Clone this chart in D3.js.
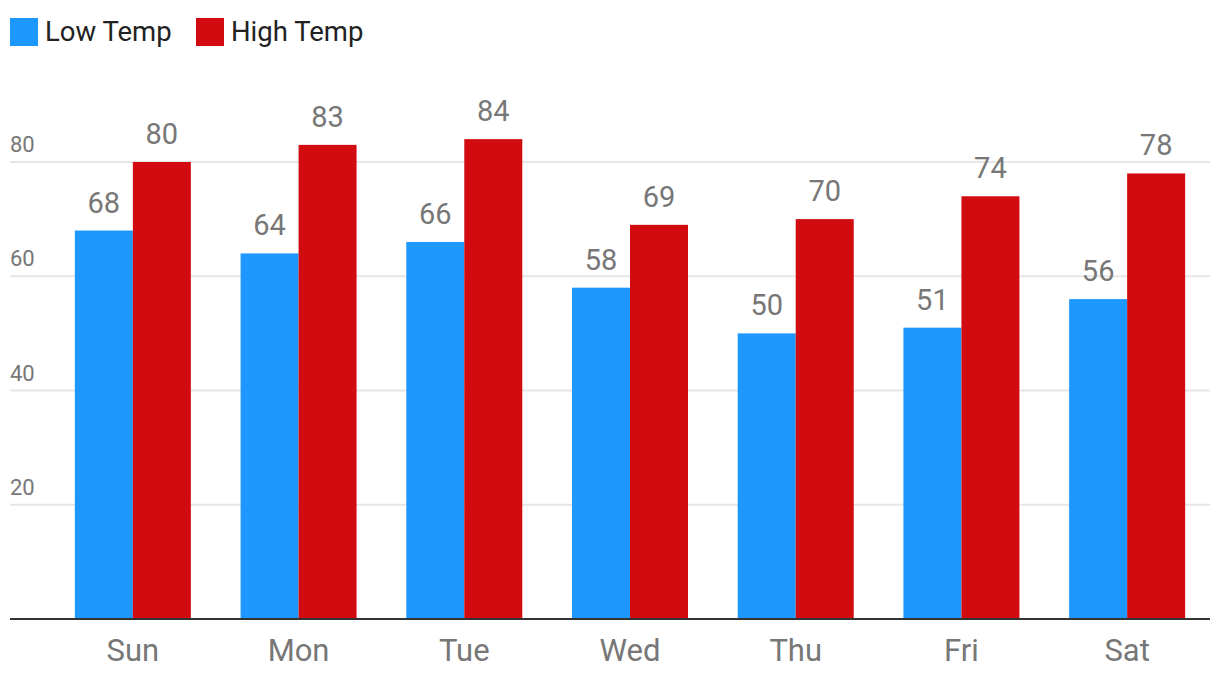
<!DOCTYPE html>
<html>
<head>
<meta charset="utf-8">
<script src="https://cdn.jsdelivr.net/npm/d3@7"></script>
<style>
  body { margin: 0; background: #fff; font-family: Roboto, "Open Sans", sans-serif; }
  .grid line { stroke: #e6e6e6; stroke-width: 2; }
  .tickLabel { fill: #777; font-size: 22px; }
  .barValue { fill: #777; font-size: 29px; text-anchor: middle; }
  .catLabel { fill: #777; font-size: 31px; text-anchor: middle; }
  .legendText { fill: #222; font-size: 27.5px; }
</style>
</head>
<body>
<svg id="chart" width="1220" height="686"></svg>
<script>
// chart data
var days = ["Sun", "Mon", "Tue", "Wed", "Thu", "Fri", "Sat"];
var lowTemps = [68, 64, 66, 58, 50, 51, 56];
var highTemps = [80, 83, 84, 69, 70, 74, 78];
var seriesNames = ["Low Temp", "High Temp"];
var seriesColors = ["#1e98ff", "#d20b10"];
var yTicks = [20, 40, 60, 80];

var svg = d3.select("#chart");

// plot area
var left = 10, right = 1210, barLeft = 50, bottom = 619;

var x = d3.scaleBand()
	.domain(days)
	.range([barLeft, right])
	.paddingInner(0.3)
	.paddingOuter(0.15);

var xSeries = d3.scaleBand()
	.domain(seriesNames)
	.range([0, x.bandwidth()]);

// 80 sits at y = 162
var y = d3.scaleLinear()
	.domain([0, 80])
	.range([bottom, 162]);

var color = d3.scaleOrdinal(seriesNames, seriesColors);

// gridlines
svg.append("g")
	.attr("class", "grid")
	.selectAll("line")
	.data(yTicks)
	.enter()
	.append("line")
	.attr("x1", left)
	.attr("x2", right)
	.attr("y1", function(d) { return y(d); })
	.attr("y2", function(d) { return y(d); });

// y tick labels sit above their gridline
svg.selectAll(".tickLabel")
	.data(yTicks)
	.enter()
	.append("text")
	.attr("class", "tickLabel")
	.attr("x", left)
	.attr("y", function(d) { return y(d) - 10; })
	.text(function(d) { return d; });

// one row per day with both series
var rows = days.map(function(day, i) {
	return {day: day, values: [
		{name: seriesNames[0], value: lowTemps[i]},
		{name: seriesNames[1], value: highTemps[i]}
	]};
});

var groups = svg.selectAll(".day")
	.data(rows)
	.enter()
	.append("g")
	.attr("class", "day")
	.attr("transform", function(d) { return "translate(" + x(d.day) + ",0)"; });

groups.selectAll("rect")
	.data(function(d) { return d.values; })
	.enter()
	.append("rect")
	.attr("x", function(d) { return xSeries(d.name); })
	.attr("y", function(d) { return y(d.value); })
	.attr("width", xSeries.bandwidth())
	.attr("height", function(d) { return y(0) - y(d.value); })
	.attr("fill", function(d) { return color(d.name); });

groups.selectAll(".barValue")
	.data(function(d) { return d.values; })
	.enter()
	.append("text")
	.attr("class", "barValue")
	.attr("x", function(d) { return xSeries(d.name) + xSeries.bandwidth() / 2; })
	.attr("y", function(d) { return y(d.value) - 18; })
	.text(function(d) { return d.value; });

// x axis line and day labels
svg.append("line")
	.attr("x1", left)
	.attr("x2", right)
	.attr("y1", y(0))
	.attr("y2", y(0))
	.attr("stroke", "#333")
	.attr("stroke-width", 2);

svg.selectAll(".catLabel")
	.data(days)
	.enter()
	.append("text")
	.attr("class", "catLabel")
	.attr("x", function(d) { return x(d) + x.bandwidth() / 2; })
	.attr("y", 661)
	.text(function(d) { return d; });

// legend
var legendX = [10, 196];
var legend = svg.selectAll(".legendItem")
	.data(seriesNames)
	.enter()
	.append("g")
	.attr("class", "legendItem")
	.attr("transform", function(d, i) { return "translate(" + legendX[i] + ",18)"; });

legend.append("rect")
	.attr("width", 28)
	.attr("height", 28)
	.attr("fill", function(d) { return color(d); });

legend.append("text")
	.attr("class", "legendText")
	.attr("x", 35)
	.attr("y", 23)
	.text(function(d) { return d; });
</script>
</body>
</html>
